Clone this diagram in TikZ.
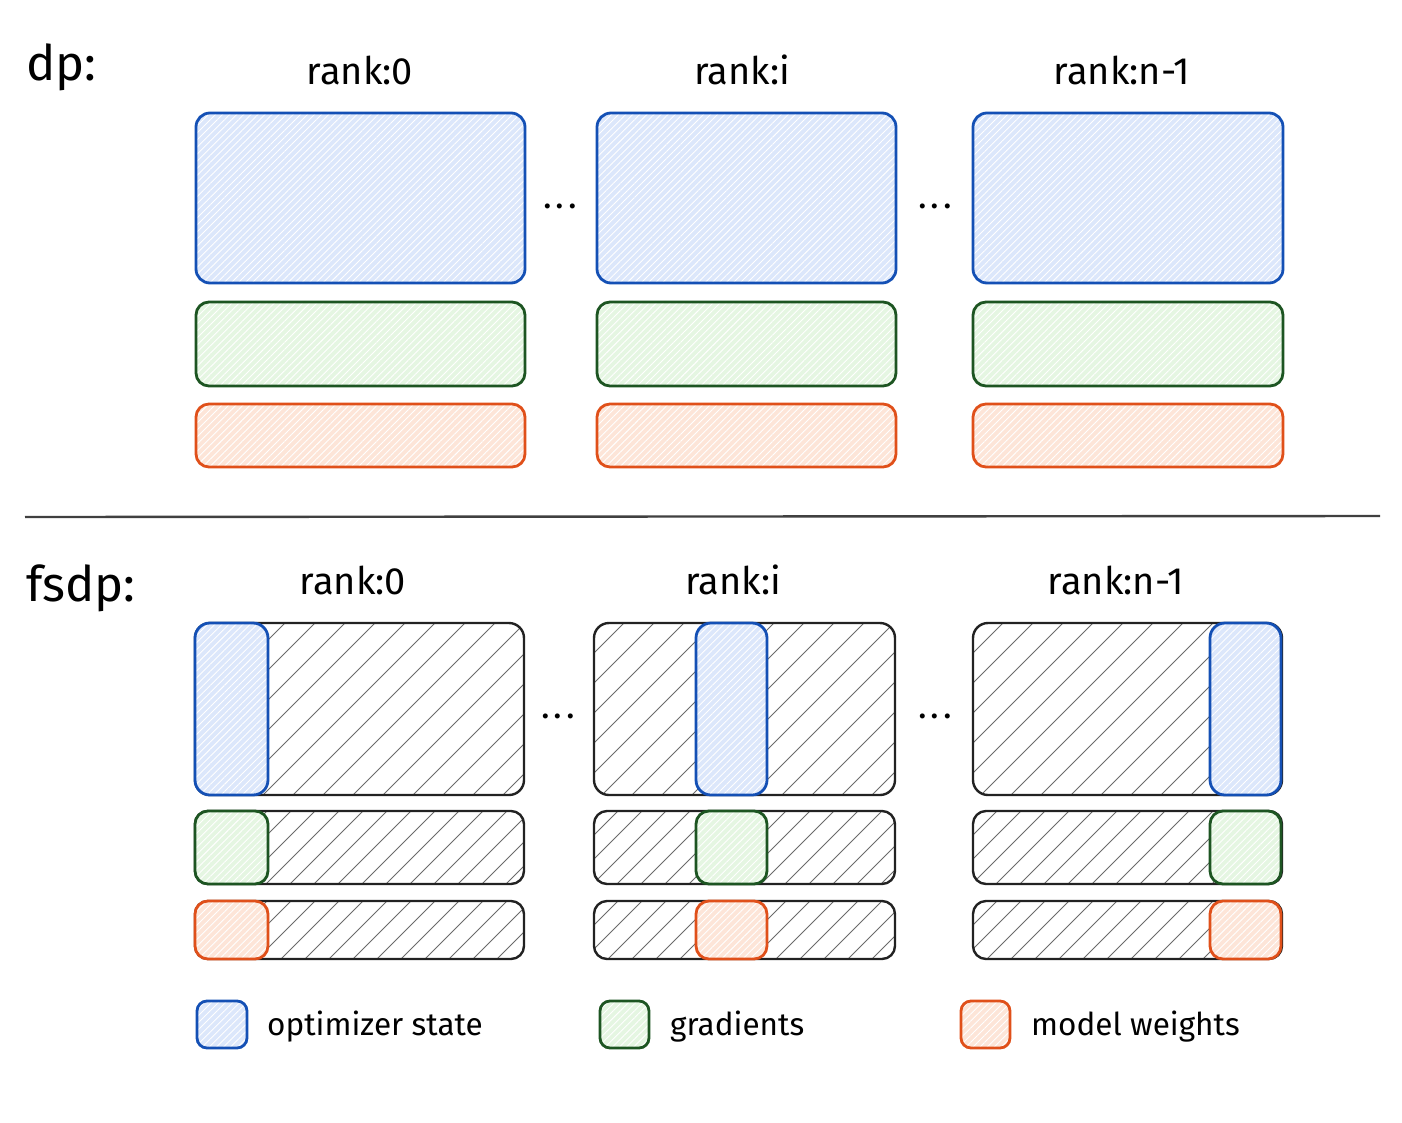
\documentclass[tikz,border=0pt]{standalone}
\usepackage{fontspec}
\setmainfont{Fira Sans}
\usetikzlibrary{patterns.meta}
\definecolor{bstroke}{HTML}{1450B5}
\definecolor{bfill}{HTML}{DCE7FB}
\definecolor{gstroke}{HTML}{1D5522}
\definecolor{gfill}{HTML}{E5F6E2}
\definecolor{ostroke}{HTML}{E0501A}
\definecolor{ofill}{HTML}{FDE5D8}
\definecolor{boxline}{HTML}{222222}
\definecolor{hatchgray}{HTML}{6A6A6A}
\tikzset{
  colbox/.style={preaction={fill=#1},preaction={pattern={Lines[angle=45,distance=5pt,line width=0.9pt]},pattern color=white},line width=2.8pt},
  optbox/.style={colbox=bfill,draw=bstroke,rounded corners=14pt},
  gradbox/.style={colbox=gfill,draw=gstroke,rounded corners=13pt},
  wbox/.style={colbox=ofill,draw=ostroke,rounded corners=13pt},
  grayline/.style={draw=boxline,line width=2.4pt},
  hatchline/.style={draw=hatchgray,line width=0.8pt},
  ranklab/.style={inner sep=0pt,font=\fontsize{38}{44}\selectfont},
  headlab/.style={inner sep=0pt,anchor=west,font=\fontsize{49}{56}\selectfont},
  dotslab/.style={inner sep=0pt,font=\fontsize{36}{40}\selectfont},
  leglab/.style={inner sep=0pt,anchor=west,font=\fontsize{31.5}{38}\selectfont},
}
\newcommand{\mydots}{.\hspace{4pt}.\hspace{4pt}.}
% #1 xa, #2 ytop, #3 xb, #4 ybot, #5 spacing, #6 corner radius
\newcommand{\hatchbox}[6]{%
  \begin{scope}
    \clip[rounded corners=#6] (#1,#2) rectangle (#3,#4);
    \pgfmathsetmacro{\hh}{#2-(#4)}
    \foreach \k in {0,...,40} \draw[hatchline] ({#1-\hh+\k*#5},#4) -- ++(\hh,\hh);
  \end{scope}
  \draw[grayline,rounded corners=#6] (#1,#2) rectangle (#3,#4);}
\begin{document}
\begin{tikzpicture}[x=1pt,y=1pt]
\useasboundingbox[fill=white] (0,0) rectangle (1402,-1122);
% ---------- dp ----------
\node[headlab] (dp) at (26,-67) {dp:};
\node[ranklab] (dpr0) at (360,-70) {rank:0};
\node[ranklab] (dpri) at (742,-70) {rank:i};
\node[ranklab] (dprn) at (1122,-70) {rank:n-1};
\foreach \xa/\xb in {196/525,597/896,973/1283}{
  \draw[optbox] (\xa,-113) rectangle (\xb,-283);
  \draw[gradbox] (\xa,-302) rectangle (\xb,-386);
  \draw[wbox] (\xa,-404) rectangle (\xb,-467);
}
\node[dotslab] (dpd1) at (560,-206) {\mydots};
\node[dotslab] (dpd2) at (935,-206) {\mydots};
% ---------- separator ----------
\draw[line width=2.4pt,draw=black!75] (25,-517) -- (1380,-516);
% ---------- fsdp ----------
\node[headlab] (fsdp) at (26,-588) {fsdp:};
\node[ranklab] (fr0) at (353,-580) {rank:0};
\node[ranklab] (fri) at (733,-580) {rank:i};
\node[ranklab] (frn) at (1116,-580) {rank:n-1};
\foreach \xa/\xb/\ia/\ib in {195/524/195/268,594/895/696/767,973/1282/1210/1281}{
  \hatchbox{\xa}{-623}{\xb}{-795}{30}{15pt}
  \hatchbox{\xa}{-811}{\xb}{-884}{24}{13pt}
  \hatchbox{\xa}{-901}{\xb}{-959}{24}{13pt}
  \draw[optbox,rounded corners=15pt] (\ia,-623) rectangle (\ib,-795);
  \draw[gradbox,rounded corners=13pt] (\ia,-811) rectangle (\ib,-884);
  \draw[wbox,rounded corners=13pt] (\ia,-901) rectangle (\ib,-959);
}
\node[dotslab] (fd1) at (558,-716) {\mydots};
\node[dotslab] (fd2) at (935,-716) {\mydots};
% ---------- legend ----------
\draw[optbox,rounded corners=10pt] (197,-1001) rectangle (247,-1048);
\node[leglab] (l1) at (267,-1027) {optimizer state};
\draw[gradbox,rounded corners=10pt] (600,-1001) rectangle (649,-1048);
\node[leglab] (l2) at (670,-1027) {gradients};
\draw[wbox,rounded corners=10pt] (961,-1001) rectangle (1010,-1048);
\node[leglab] (l3) at (1031,-1027) {model weights};
\end{tikzpicture}
\end{document}
